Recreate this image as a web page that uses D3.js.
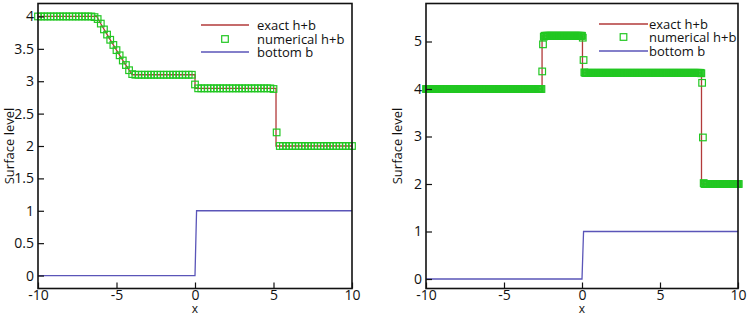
<!DOCTYPE html>
<html>
<head>
<meta charset="utf-8">
<script src="https://cdn.jsdelivr.net/npm/d3@7"></script>
<style>
  body { margin: 0; background: #fff; }
  svg text { font-family: "Open Sans", "DejaVu Sans", sans-serif; fill: #111; }
</style>
</head>
<body>
<div id="chart"></div>
<script>
// ---- data ----
// numerical h+b as runs [value, count] on a uniform grid
var leftGrid = {x0: -10, dx: 0.2};
var leftNumerical = [
    [4.00, 18], [3.99, 1],
    [3.96, 1], [3.89, 1], [3.80, 1], [3.72, 1], [3.64, 1], [3.56, 1], [3.48, 1],
    [3.40, 1], [3.32, 1], [3.25, 1], [3.17, 1], [3.11, 1], [3.10, 1],
    [3.10, 18],
    [2.95, 1],
    [2.89, 24], [2.88, 1],
    [2.21, 1],
    [2.00, 24]
];
var leftExact = [[-10, 4], [-6.26, 4], [-6.0, 3.888], [-5.5, 3.681], [-5.0, 3.48], [-4.5, 3.284],
    [-3.99, 3.10], [0, 3.10], [0, 2.89], [5.16, 2.89], [5.16, 2.0], [10, 2.0]];

var rightGrid = {x0: -10, dx: 0.05};
var rightNumerical = [
    [4.00, 149],
    [4.37, 1], [4.94, 1], [5.10, 1],
    [5.12, 49],
    [5.08, 1], [4.61, 1], [4.35, 1],
    [4.34, 149],
    [4.33, 1], [4.13, 1], [2.98, 1], [2.02, 1],
    [2.00, 45]
];
var rightExact = [[-10, 4], [-2.56, 4], [-2.56, 5.12], [0.03, 5.12], [0.03, 4.34],
    [7.66, 4.34], [7.66, 2.0], [10, 2.0]];

var bottomB = [[-10, 0], [0, 0], [0.1, 1], [10, 1]];

var xTicks = [-10, -5, 0, 5, 10];
var leftYTicks = [0, 0.5, 1, 1.5, 2, 2.5, 3, 3.5, 4];
var rightYTicks = [0, 1, 2, 3, 4, 5];
var legendLabels = ["exact h+b", "numerical h+b", "bottom b"];

var W = 748, H = 316;
var svg = d3.select("#chart").append("svg").attr("width", W).attr("height", H);

function expand(runs, grid) {
    var pts = [], i = 0;
    runs.forEach(function (r) {
        for (var k = 0; k < r[1]; k++) {
            pts.push([grid.x0 + grid.dx * i, r[0]]);
            i++;
        }
    });
    return pts;
}

function panel(opt) {
    var x = d3.scaleLinear().domain([-10, 10]).range([opt.left, opt.right]);
    var y = d3.scaleLinear().domain(opt.yDomain).range([opt.bottom, opt.top]);
    var g = svg.append("g");

    // bottom b
    var line = d3.line().x(function (d) { return x(d[0]); }).y(function (d) { return y(d[1]); });
    g.append("path").datum(bottomB).attr("d", line)
        .attr("fill", "none").attr("stroke", "#5a55b8").attr("stroke-width", 1.3);
    // exact
    g.append("path").datum(opt.exact).attr("d", line)
        .attr("fill", "none").attr("stroke", "#b23a3a").attr("stroke-width", 1.3);
    // numerical
    g.append("g").selectAll("rect")
        .data(expand(opt.numerical, opt.grid))
        .enter().append("rect")
        .attr("x", function (d) { return x(d[0]) - 3.3; })
        .attr("y", function (d) { return y(d[1]) - 3.3; })
        .attr("width", 6.6).attr("height", 6.6)
        .attr("fill", "none").attr("stroke", "#22c722").attr("stroke-width", 1.2);

    // axes, ticks pointing inward
    var ax = g.append("g").attr("transform", "translate(0," + opt.bottom + ")");
    ax.call(d3.axisBottom(x).tickValues(d3.range(-10, 10.01, 1)).tickSize(-3).tickFormat(""));
    ax.call(d3.axisBottom(x).tickValues(xTicks).tickSize(-6).tickSizeOuter(0).tickPadding(2)
        .tickFormat(function (d) { return String(d); }));
    var ay = g.append("g").attr("transform", "translate(" + opt.left + ",0)");
    ay.call(d3.axisLeft(y).tickValues(opt.minor).tickSize(-3).tickFormat(""));
    ay.call(d3.axisLeft(y).tickValues(opt.yTicks).tickSize(-6).tickSizeOuter(0).tickPadding(4)
        .tickFormat(function (d) { return String(d); }));
    g.selectAll(".tick line").attr("stroke", "#111").attr("stroke-width", 1.2);
    g.selectAll(".domain").remove();
    g.selectAll(".tick text").style("font-size", "14px").attr("fill", "#111");

    g.append("rect").attr("x", opt.left).attr("y", opt.top)
        .attr("width", opt.right - opt.left).attr("height", opt.bottom - opt.top)
        .attr("fill", "none").attr("stroke", "#111").attr("stroke-width", 1.6);

    g.append("text").attr("x", (opt.left + opt.right) / 2).attr("y", 312.5)
        .attr("text-anchor", "middle").style("font-size", "12px").text("x");
    g.append("text").attr("transform", "translate(" + opt.ylabX + "," + ((opt.top + opt.bottom) / 2) + ") rotate(-90)")
        .attr("text-anchor", "middle").attr("dy", "0.35em").style("font-size", "13px").text("Surface level");

    // legend
    var lg = g.append("g");
    var ly = opt.legY;
    lg.append("line").attr("x1", opt.legX0).attr("x2", opt.legX1).attr("y1", ly[0]).attr("y2", ly[0])
        .attr("stroke", "#b23a3a").attr("stroke-width", 1.3);
    lg.append("rect").attr("x", (opt.legX0 + opt.legX1) / 2 - 3.3).attr("y", ly[1] - 3.3)
        .attr("width", 6.6).attr("height", 6.6)
        .attr("fill", "none").attr("stroke", "#22c722").attr("stroke-width", 1.2);
    lg.append("line").attr("x1", opt.legX0).attr("x2", opt.legX1).attr("y1", ly[2]).attr("y2", ly[2])
        .attr("stroke", "#5a55b8").attr("stroke-width", 1.3);
    lg.selectAll("text").data(legendLabels).enter().append("text")
        .attr("x", opt.legText).attr("y", function (d, i) { return ly[i]; })
        .attr("dy", "0.35em").style("font-size", "13px").text(function (d) { return d; });
}

panel({
    left: 38, right: 352, top: 3.5, bottom: 288.5, yDomain: [-0.2, 4.2],
    yTicks: leftYTicks, minor: d3.range(-0.2, 4.21, 0.1),
    grid: leftGrid, numerical: leftNumerical, exact: leftExact,
    ylabX: 9, legX0: 201, legX1: 249, legText: 257, legY: [25, 39, 52]
});
panel({
    left: 426, right: 738, top: 3.5, bottom: 288.5, yDomain: [-0.2, 5.8],
    yTicks: rightYTicks, minor: d3.range(-0.2, 5.81, 0.2),
    grid: rightGrid, numerical: rightNumerical, exact: rightExact,
    ylabX: 397, legX0: 599, legX1: 648, legText: 649, legY: [24, 37, 51]
});
</script>
</body>
</html>
